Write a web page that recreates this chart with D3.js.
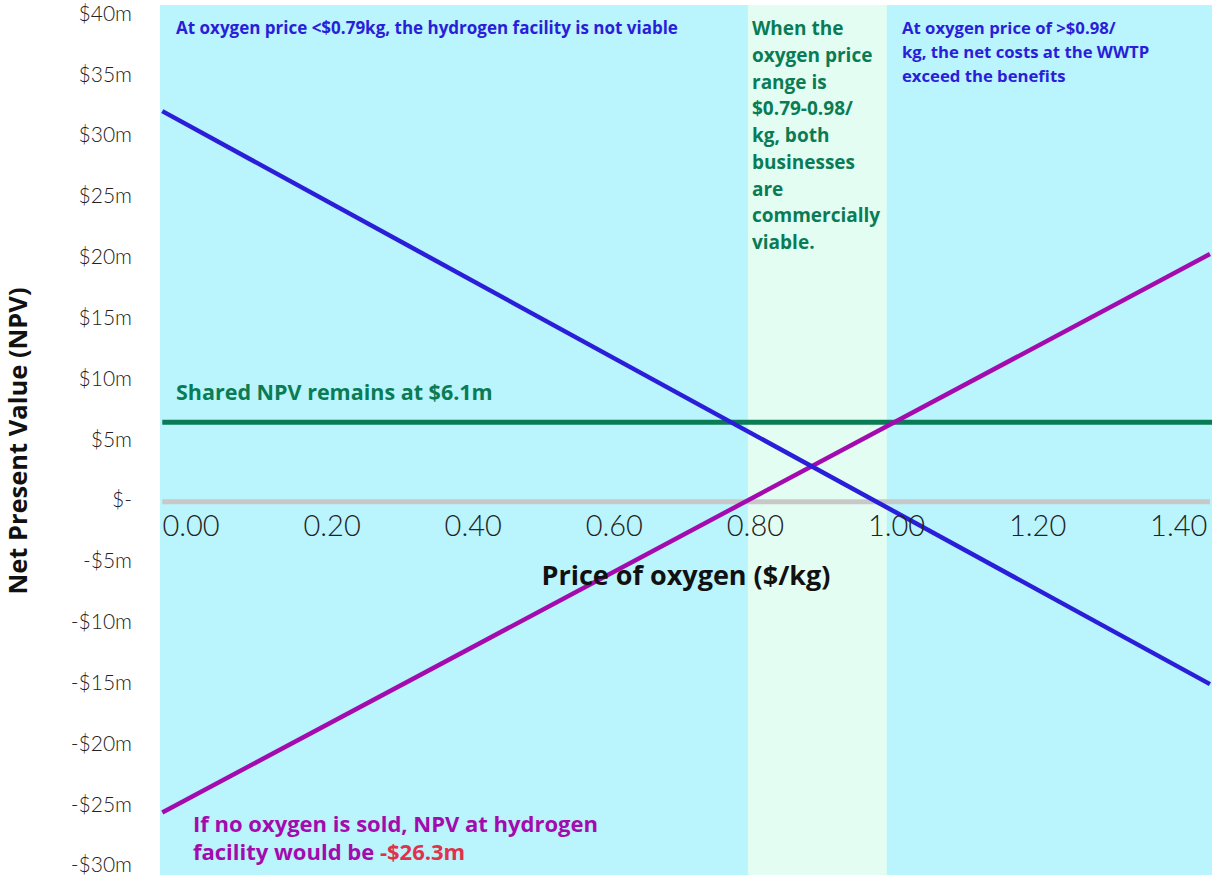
<!DOCTYPE html>
<html><head><meta charset="utf-8">
<script src="https://cdn.jsdelivr.net/npm/d3@7"></script>
<style>
html,body{margin:0;padding:0;background:#fff;}
svg{display:block;font-family:"Open Sans",Lato,sans-serif;}
</style></head>
<body><svg id="c" width="1212" height="877"></svg>
<script>
// ---- data ----
const xTicks = [0.00, 0.20, 0.40, 0.60, 0.80, 1.00, 1.20, 1.40];
const yTicks = [40, 35, 30, 25, 20, 15, 10, 5, 0, -5, -10, -15, -20, -25, -30];
const linePrices = [-0.04, 1.445];          // oxygen price ($/kg) at line ends
const wwtpNPV = [32.1, -15.0];              // blue ($m)
const hydrogenNPV = [-25.55, 20.35];        // purple ($m)
const sharedNPV = [6.53, 6.53];             // green ($m)
const zeroLine = [0, 0];
const viableBand = [0.79, 0.987];

const svg = d3.select("#c");
const x = d3.scaleLinear().domain([0, 1.4]).range([190.5, 1178.2]);
const y = d3.scaleLinear().domain([-30, 40]).range([866.6, 15.0]);
const plotL = 160, plotR = 1212, plotT = 5, plotB = 875;

svg.append("rect").attr("x", plotL).attr("y", plotT).attr("width", plotR - plotL).attr("height", plotB - plotT).attr("fill", "#BAF4FC");
svg.append("rect").attr("x", x(viableBand[0])).attr("y", plotT).attr("width", x(viableBand[1]) - x(viableBand[0])).attr("height", plotB - plotT).attr("fill", "#E3FDF3");

const line = d3.line().x(d => x(d[0])).y(d => y(d[1]));
function series(vals, color, w) {
  svg.append("path").datum(linePrices.map((p, i) => [p, vals[i]]))
    .attr("d", line).attr("fill", "none").attr("stroke", color).attr("stroke-width", w);
}
series(zeroLine, "#C8C8C8", 5);
svg.append("path").datum([[linePrices[0], sharedNPV[0]], [1.47, sharedNPV[1]]]).attr("d", line)
  .attr("fill", "none").attr("stroke", "#0A7C55").attr("stroke-width", 5);
series(hydrogenNPV, "#A30BAE", 4.5);
series(wwtpNPV, "#2A1ED8", 4.5);

// y axis labels
const fmt = v => v === 0 ? "$-" : (v < 0 ? "-$" + (-v) + "m" : "$" + v + "m");
const yAxis = d3.axisLeft(y).tickValues(yTicks).tickFormat(fmt).tickSize(0).tickPadding(0);
const ga = svg.append("g").attr("transform", "translate(132,0)").call(yAxis);
ga.select(".domain").remove();
ga.selectAll("text").attr("font-size", 21).attr("dy", "0.25em").attr("font-family", "Lato, sans-serif").attr("font-weight", 300).attr("fill", "#222");

// x axis labels
const xAxis = d3.axisBottom(x).tickValues(xTicks).tickFormat(d3.format(".2f")).tickSize(0).tickPadding(0);
const gx = svg.append("g").attr("transform", "translate(0,515)").call(xAxis);
gx.select(".domain").remove();
gx.selectAll("text").attr("font-size", 29).attr("font-family", "Lato, sans-serif").attr("font-weight", 300).attr("fill", "#222");

// axis titles
svg.append("text").attr("x", 686).attr("y", 585).attr("text-anchor", "middle")
  .attr("font-size", 27).attr("font-weight", 700).attr("fill", "#111").text("Price of oxygen ($/kg)");
svg.append("text").attr("transform", "translate(27,441) rotate(-90)").attr("text-anchor", "middle")
  .attr("font-size", 25.5).attr("font-weight", 700).attr("fill", "#111").text("Net Present Value (NPV)");

// annotations
function block(lines, xx, y0, dy, size, color) {
  const t = svg.append("text").attr("font-size", size).attr("font-weight", 700).attr("fill", color);
  lines.forEach((l, i) => t.append("tspan").attr("x", xx).attr("y", y0 + i * dy).text(l));
  return t;
}
block(["At oxygen price <$0.79kg, the hydrogen facility is not viable"], 176, 34, 0, 17, "#2A1ED8");
block(["When the", "oxygen price", "range is", "$0.79-0.98/", "kg, both", "businesses", "are", "commercially", "viable."], 752, 35, 26.75, 19, "#0A7C55");
block(["At oxygen price of >$0.98/", "kg, the net costs at the WWTP", "exceed the benefits"], 902, 34, 24, 16.7, "#2A1ED8");
block(["Shared NPV remains at $6.1m"], 176, 400, 0, 21.5, "#0A7C55");
const t5 = svg.append("text").attr("font-size", 22).attr("font-weight", 700).attr("fill", "#A30BAE");
t5.append("tspan").attr("x", 193).attr("y", 832).text("If no oxygen is sold, NPV at hydrogen");
t5.append("tspan").attr("x", 193).attr("y", 860).text("facility would be ");
t5.append("tspan").attr("fill", "#E0334B").text("-$26.3m");
</script></body></html>
